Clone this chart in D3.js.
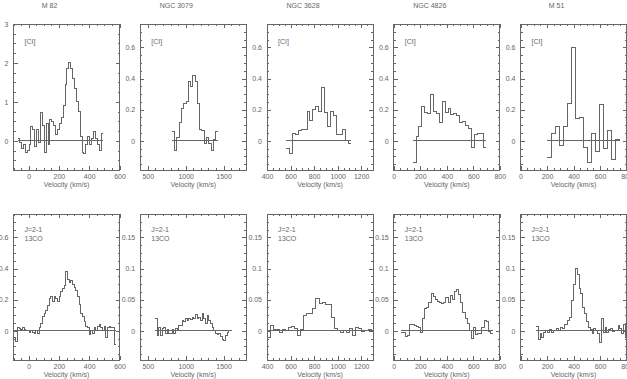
<!DOCTYPE html>
<html>
<head>
<meta charset="utf-8">
<script src="https://cdn.jsdelivr.net/npm/d3@7"></script>
<style>
body{margin:0;background:#fff}
</style>
</head>
<body>
<div id="wrapper"></div>
<script>
// galaxies, one column each
const galaxies = ['M 82', 'NGC 3079', 'NGC 3628', 'NGC 4826', 'M 51'];
const xDomains = [[-100, 600], [400, 1800], [400, 1300], [0, 800], [0, 800]];
const xTicks = [[0, 200, 400, 600], [500, 1000, 1500], [400, 600, 800, 1000, 1200], [0, 200, 400, 600, 800], [0, 200, 400, 600, 800]];
const xMinor = [50, 100, 50, 50, 50];

// [CI] row
const ciTop = [3, 0.75, 0.75, 0.75, 0.75];
const ciTicks = [[0, 1, 2, 3], [0, 0.2, 0.4, 0.6], [0, 0.2, 0.4, 0.6], [0, 0.2, 0.4, 0.6], [0, 0.2, 0.4, 0.6]];
const ciMinor = [0.25, 0.05, 0.05, 0.05, 0.05];
const ciStart = [-72, 825, 565, 146, 200];
const ciWidth = [12.5, 30, 25, 22, 30.5];
const ciM82 = [0.05, -0.05, -0.2, -0.1, -0.3, -0.25, -0.1, 0.38, 0.3, -0.15, 0.28, -0.05, 0.72, 0.4, -0.3, 0.45, -0.1, 0.55, 0.5, 0.4,
  0.15, 0.3, 0.45, 0.6, 0.9, 1.45, 1.85, 2.0, 1.85, 1.6, 1.35, 1.0, 0.75, 0.1, -0.3, -0.32, -0.1, 0.1, -0.1, 0.05,
  0.25, 0.05, -0.1, -0.25, 0.2];
const ciN3079 = [0.06, -0.06, 0.02, 0.12, 0.21, 0.24, 0.25, 0.38, 0.35, 0.42, 0.38, 0.24, 0.07, 0.065, -0.015, 0.02, -0.015, -0.065, 0.01, 0.06];
const ciN3628 = [-0.05, -0.08, 0.045, 0.04, 0.065, 0.07, 0.075, 0.19, 0.13, 0.2, 0.22, 0.19, 0.345, 0.18, 0.09, 0.19, 0.16, 0.04, 0.04, 0.07, 0.0, -0.02];
const ciN4826 = [-0.14, 0.03, 0.09, 0.22, 0.18, 0.175, 0.3, 0.19, 0.175, 0.12, 0.25, 0.18, 0.205, 0.17, 0.175, 0.165, 0.12, 0.125, 0.1, 0.08,
  -0.045, 0.04, 0.05, 0.05, -0.04];
const ciM51 = [-0.11, 0.05, 0.09, -0.03, 0.09, 0.24, 0.6, 0.14, 0.15, -0.045, -0.14, 0.045, -0.07, 0.23, -0.05, 0.065, -0.12, 0.01];

// 13CO J=2-1 row
const coTop = [0.75, 0.1875, 0.1875, 0.1875, 0.1875];
const coTicks = [[0, 0.2, 0.4, 0.6], [0, 0.05, 0.1, 0.15], [0, 0.05, 0.1, 0.15], [0, 0.05, 0.1, 0.15], [0, 0.05, 0.1, 0.15]];
const coMinor = [0.05, 0.0125, 0.0125, 0.0125, 0.0125];
const coStart = [-95, 600, 400, 58, 120];
const coWidth = [11, 22, 26, 16, 14];
const coM82 = [-0.04, -0.07, 0.02, 0.015, 0.01, 0.02, 0.01, 0.0, 0.005, -0.01, 0.005, -0.01, -0.015, 0.0, -0.015, 0.02, 0.05, 0.09, 0.11, 0.13,
  0.16, 0.21, 0.22, 0.19, 0.22, 0.21, 0.19, 0.22, 0.25, 0.27, 0.29, 0.38, 0.33, 0.31, 0.32, 0.3, 0.28, 0.26, 0.22, 0.17,
  0.11, 0.09, 0.06, 0.03, 0.02, -0.025, 0.0, -0.02, 0.02, 0.0, 0.03, 0.04, 0.02, 0.0, 0.03, -0.04, 0.02, 0.03, 0.02, 0.02, -0.09];
const coN3079 = [0.02, -0.008, 0.006, -0.008, 0.004, 0.006, -0.004, 0.002, -0.004, -0.005, 0.002, -0.004, 0.003, 0.0, 0.008, 0.008,
  0.016, 0.015, 0.019, 0.017, 0.02, 0.018, 0.022, 0.02, 0.026, 0.019, 0.022, 0.017, 0.027, 0.02, 0.012, 0.024, 0.016, 0.012,
  0.005, 0.001, -0.004, -0.006, -0.004, -0.009, -0.014, -0.016, -0.008, -0.003, 0.0, 0.001];
const coN3628 = [-0.01, 0.008, 0.002, 0.002, -0.002, 0.002, 0.0, 0.005, 0.007, 0.003, -0.008, 0.002, 0.025, 0.027, 0.027, 0.036, 0.052,
  0.044, 0.045, 0.043, 0.043, 0.022, 0.003, 0.001, -0.002, 0.001, -0.002, 0.004, -0.008, 0.005, 0.003, -0.001, 0.0, 0.002, 0.001];
const coN4826 = [-0.002, -0.002, -0.009, -0.008, 0.01, 0.01, 0.009, 0.007, 0.006, -0.002, 0.02, 0.036, 0.038, 0.045, 0.06, 0.055, 0.05,
  0.047, 0.045, 0.044, 0.046, 0.054, 0.045, 0.056, 0.05, 0.063, 0.067, 0.058, 0.045, 0.03, 0.02, 0.012, 0.0, -0.012, 0.005, -0.006,
  -0.005, -0.004, 0.005, 0.016, 0.015, -0.001, -0.004];
const coM51 = [0.007, -0.014, -0.005, -0.01, -0.003, 0.001, -0.003, 0.002, -0.002, 0.0, 0.001, 0.003, 0.0, 0.005, 0.003, 0.01, 0.01,
  0.016, 0.022, 0.048, 0.075, 0.1, 0.09, 0.068, 0.06, 0.038, 0.028, 0.015, 0.005, 0.002, -0.005, 0.003, 0.0, -0.004, -0.018, 0.02,
  -0.002, 0.005, -0.003, 0.002, 0.004, -0.001, 0.001, 0.0, 0.008, 0.003, -0.004, 0.01, -0.01];

const rows = [
  {label: ['[CI]'], top: ciTop, ticks: ciTicks, minor: ciMinor, start: ciStart, width: ciWidth,
    spectra: [ciM82, ciN3079, ciN3628, ciN4826, ciM51]},
  {label: ['J=2-1', '13CO'], top: coTop, ticks: coTicks, minor: coMinor, start: coStart, width: coWidth,
    spectra: [coM82, coN3079, coN3628, coN4826, coM51]}
];

// Dimensions
const dimensions = {width: 627, height: 379, left0: 13.5, pitch: 126.75, boxW: 106, boxH: 146, rowTop: [24, 214]};
const ink = '#666';
const font = '"Liberation Sans", Arial, sans-serif';

const svg = d3.select('#wrapper').append('svg')
  .attr('width', dimensions.width).attr('height', dimensions.height);

const minorValues = (domain, step) => {
  const out = [];
  for (let v = Math.ceil(domain[0] / step - 1e-9) * step; v <= domain[1] + 1e-9; v += step) out.push(+v.toFixed(6));
  return out;
};

rows.forEach((row, r) => {
  galaxies.forEach((name, c) => {
    const left = dimensions.left0 + c * dimensions.pitch;
    const top = dimensions.rowTop[r];
    const g = svg.append('g').attr('transform', `translate(${left},${top})`)
      .attr('color', ink).attr('font-family', font);

    const xScale = d3.scaleLinear().domain(xDomains[c]).range([0, dimensions.boxW]);
    const yScale = d3.scaleLinear().domain([-row.top[c] / 4, row.top[c]]).range([dimensions.boxH, 0]);

    // ticks on all four sides, pointing in
    const xMin = minorValues(xDomains[c], xMinor[c]);
    const yMin = minorValues(yScale.domain(), row.minor[c]);
    const addAxis = (axis, tx, ty) => {
      const a = g.append('g').attr('transform', `translate(${tx},${ty})`).call(axis);
      a.select('.domain').remove();
      a.selectAll('line').attr('stroke-width', 1).attr('shape-rendering', 'crispEdges');
      a.attr('font-size', 7).attr('font-family', font);
      return a;
    };
    addAxis(d3.axisBottom(xScale).tickValues(xMin).tickSize(-2).tickFormat(''), 0, dimensions.boxH);
    addAxis(d3.axisTop(xScale).tickValues(xMin).tickSize(-2).tickFormat(''), 0, 0);
    addAxis(d3.axisLeft(yScale).tickValues(yMin).tickSize(-2).tickFormat(''), 0, 0);
    addAxis(d3.axisRight(yScale).tickValues(yMin).tickSize(-2).tickFormat(''), dimensions.boxW, 0);
    addAxis(d3.axisBottom(xScale).tickValues(xTicks[c]).tickSizeInner(-4).tickSizeOuter(0).tickPadding(4.5)
      .tickFormat(d3.format('d')), 0, dimensions.boxH);
    addAxis(d3.axisTop(xScale).tickValues(xTicks[c]).tickSize(-4).tickFormat(''), 0, 0);
    addAxis(d3.axisLeft(yScale).tickValues(row.ticks[c]).tickSizeInner(-4).tickSizeOuter(0).tickPadding(5)
      .tickFormat(d3.format('~g')), 0, 0);
    addAxis(d3.axisRight(yScale).tickValues(row.ticks[c]).tickSize(-4).tickFormat(''), dimensions.boxW, 0);

    g.append('rect').attr('width', dimensions.boxW).attr('height', dimensions.boxH)
      .attr('fill', 'none').attr('stroke', ink).attr('stroke-width', 1).attr('shape-rendering', 'crispEdges');

    // spectrum as histogram
    const values = row.spectra[c];
    const edges = values.map((d, i) => row.start[c] + i * row.width[c]);
    const last = row.start[c] + values.length * row.width[c];
    const points = values.map((d, i) => [edges[i], d]).concat([[last, values[values.length - 1]]]);

    const clipId = `clip-${r}-${c}`;
    g.append('clipPath').attr('id', clipId).append('rect')
      .attr('width', dimensions.boxW).attr('height', dimensions.boxH);
    const plot = g.append('g').attr('clip-path', `url(#${clipId})`);

    plot.append('line')
      .attr('x1', xScale(edges[0])).attr('x2', xScale(last))
      .attr('y1', yScale(0)).attr('y2', yScale(0))
      .attr('stroke', ink).attr('stroke-width', 1).attr('shape-rendering', 'crispEdges');

    const line = d3.line().x(d => xScale(d[0])).y(d => yScale(d[1])).curve(d3.curveStepAfter);
    plot.append('path').datum(points).attr('d', line)
      .attr('fill', 'none').attr('stroke', ink).attr('stroke-width', 1).attr('shape-rendering', 'crispEdges');

    // line label inside the box
    row.label.forEach((t, k) => {
      g.append('text').attr('x', 11).attr('y', (r === 0 ? 20 : 17.5) + k * 9)
        .attr('font-size', 7).attr('fill', ink).text(t);
    });

    // x axis title
    g.append('text').attr('x', dimensions.boxW / 2).attr('y', dimensions.boxH + (r === 0 ? 17 : 16.5))
      .attr('text-anchor', 'middle').attr('font-size', 7).attr('fill', ink).text('Velocity (km/s)');

    // galaxy name above the top row
    if (r === 0) {
      g.append('text').attr('x', 36).attr('y', -16.5)
        .attr('text-anchor', 'middle').attr('font-size', 7).attr('fill', ink).text(name);
    }
  });
});
</script>
</body>
</html>
